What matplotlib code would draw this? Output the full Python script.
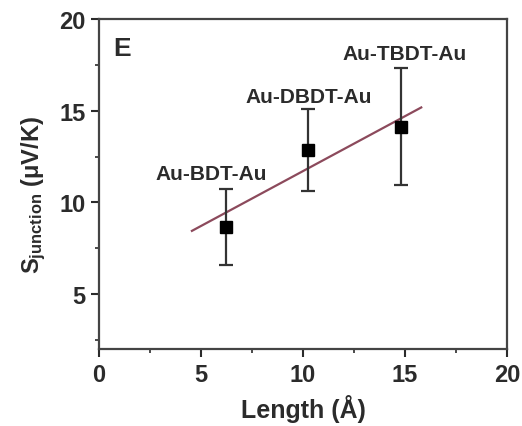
import matplotlib.pyplot as plt
from matplotlib.ticker import MultipleLocator

plt.rcParams['font.family'] = ['Liberation Sans', 'DejaVu Sans']
plt.rcParams['font.weight'] = 'bold'
plt.rcParams['mathtext.fontset'] = 'custom'
plt.rcParams['mathtext.rm'] = 'Liberation Sans:bold'
plt.rcParams['mathtext.it'] = 'Liberation Sans:bold'
plt.rcParams['mathtext.bf'] = 'Liberation Sans:bold'

# junction lengths and thermopower with error bars
length = [6.2, 10.25, 14.8]
seebeck = [8.65, 12.85, 14.1]
err_low = [6.6, 10.65, 10.95]
err_high = [10.75, 15.1, 17.35]
names = ['Au-BDT-Au', 'Au-DBDT-Au', 'Au-TBDT-Au']
name_x = [5.5, 10.3, 15.0]
name_y = [11.6, 15.8, 18.1]

# linear fit
fit_x = [4.55, 15.8]
fit_y = [8.45, 15.18]

ink = '#2b2b2b'

fig = plt.figure(figsize=(5.22, 4.27), dpi=100)
ax = fig.add_axes([0.19, 0.18, 0.781, 0.773])

yerr = [[s - lo for s, lo in zip(seebeck, err_low)],
        [hi - s for s, hi in zip(seebeck, err_high)]]
ax.errorbar(length, seebeck, yerr=yerr, fmt='s', color='black', ms=8,
            ecolor='#333333', elinewidth=1.6, capsize=5, capthick=1.6, zorder=3)
ax.plot(fit_x, fit_y, color='#8c4a5c', lw=1.6, zorder=2)

for n, tx, ty in zip(names, name_x, name_y):
    ax.text(tx, ty, n, ha='center', va='center', fontsize=15, color=ink, fontweight='bold')
ax.text(0.035, 0.95, 'E', transform=ax.transAxes, ha='left', va='top',
        fontsize=19, color=ink, fontweight='bold')

ax.set_xlim(0, 20)
ax.set_ylim(2, 20)
ax.xaxis.set_major_locator(MultipleLocator(5))
ax.xaxis.set_minor_locator(MultipleLocator(2.5))
ax.yaxis.set_major_locator(MultipleLocator(5))
ax.yaxis.set_minor_locator(MultipleLocator(2.5))
ax.set_yticks([5, 10, 15, 20])
ax.tick_params(which='major', direction='out', length=6, width=1.5, colors=ink,
               labelsize=17, pad=4)
ax.tick_params(which='minor', direction='out', length=3, width=1.2, colors=ink)
for sp in ax.spines.values():
    sp.set_linewidth(1.6)
    sp.set_color('#444444')

ax.set_xlabel('Length (Å)', fontsize=18, color=ink, fontweight='bold', labelpad=6)
ax.set_ylabel(r'S$_{\mathrm{junction}}$ (μV/K)', fontsize=17, color=ink,
              fontweight='bold')
ax.yaxis.set_label_coords(-0.125, 0.47)

fig.savefig('out.png', dpi=100)
